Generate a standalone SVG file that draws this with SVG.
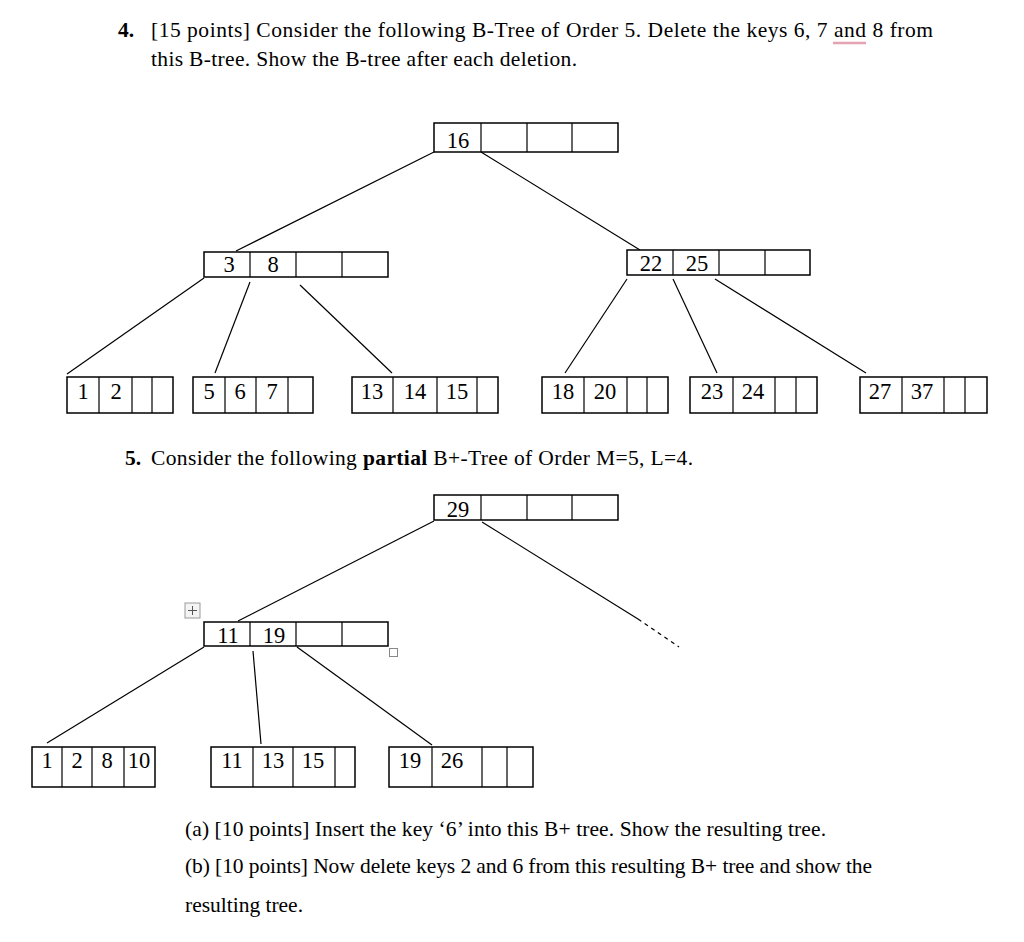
<svg xmlns="http://www.w3.org/2000/svg" width="1024" height="942" viewBox="0 0 1024 942">
<style>
.t{font-family:"Liberation Serif","Times New Roman",serif;font-size:21.5px;fill:#000}
.b{font-weight:bold}
.k{font-family:"Liberation Serif","Times New Roman",serif;font-size:22.5px;fill:#000;text-anchor:middle}
.c{fill:#fff;stroke:#000;stroke-width:1.5}
.e{stroke:#000;stroke-width:1.2;fill:none}
</style>
<rect width="1024" height="942" fill="#fff"/>
<g id="text">
<text class="t" x="118" y="37"><tspan class="b">4.</tspan></text>
<text class="t" x="151" y="37" textLength="782" lengthAdjust="spacing">[15 points] Consider the following B-Tree of Order 5. Delete the keys 6, 7 and 8 from</text>
<line x1="833" y1="43" x2="866" y2="43" stroke="#e3a3b3" stroke-width="2.5"/>
<text class="t" x="151" y="66" textLength="426" lengthAdjust="spacing">this B-tree. Show the B-tree after each deletion.</text>
<text class="t" x="125" y="465"><tspan class="b">5.</tspan></text>
<text class="t" x="151" y="465" textLength="542" lengthAdjust="spacing">Consider the following <tspan class="b">partial</tspan> B+-Tree of Order M=5, L=4.</text>
<text class="t" x="185" y="836" textLength="641" lengthAdjust="spacing">(a) [10 points] Insert the key ‘6’ into this B+ tree. Show the resulting tree.</text>
<text class="t" x="185" y="873" textLength="687" lengthAdjust="spacing">(b) [10 points] Now delete keys 2 and 6 from this resulting B+ tree and show the</text>
<text class="t" x="185" y="912" textLength="118" lengthAdjust="spacing">resulting tree.</text>
</g>
<g id="connectors">
<line class="e" x1="434" y1="152" x2="236" y2="251"/>
<line class="e" x1="481" y1="152" x2="640" y2="250"/>
<line class="e" x1="204" y1="278" x2="67" y2="374"/>
<line class="e" x1="250" y1="282" x2="215" y2="373"/>
<line class="e" x1="300" y1="285" x2="392" y2="373"/>
<line class="e" x1="627" y1="279" x2="565" y2="373"/>
<line class="e" x1="673" y1="279" x2="717" y2="373"/>
<line class="e" x1="715" y1="279" x2="866" y2="373"/>
<line class="e" x1="434" y1="521" x2="238" y2="621"/>
<line class="e" x1="482" y1="522" x2="638" y2="619"/>
<line class="e" x1="638" y1="619" x2="679" y2="647" stroke-dasharray="4,4"/>
<line class="e" x1="204" y1="647" x2="47" y2="743"/>
<line class="e" x1="253" y1="651" x2="261" y2="744"/>
<line class="e" x1="297" y1="647" x2="432" y2="745"/>
</g>
<g id="n16">
<rect class="c" x="434" y="123" width="184" height="29"/>
<path class="e" d="M481 123V152M527 123V152M572 123V152"/>
<text class="k" x="458" y="148">16</text>
</g>
<g id="n3_8">
<rect class="c" x="204" y="252" width="184" height="25"/>
<path class="e" d="M250 252V277M296 252V277M342 252V277"/>
<text class="k" x="229" y="272">3</text>
<text class="k" x="273" y="272">8</text>
</g>
<g id="n22_25">
<rect class="c" x="627" y="250" width="183" height="25"/>
<path class="e" d="M673 250V275M719 250V275M765 250V275"/>
<text class="k" x="651" y="271">22</text>
<text class="k" x="697" y="271">25</text>
</g>
<g id="l1_2">
<rect class="c" x="67" y="377" width="106" height="36"/>
<path class="e" d="M99 377V413M132 377V413M152 377V413"/>
<text class="k" x="83" y="399">1</text>
<text class="k" x="116" y="399">2</text>
</g>
<g id="l5_6_7">
<rect class="c" x="193" y="377" width="120" height="36"/>
<path class="e" d="M225 377V413M256 377V413M288 377V413"/>
<text class="k" x="209" y="399">5</text>
<text class="k" x="240" y="399">6</text>
<text class="k" x="272" y="399">7</text>
</g>
<g id="l13_14_15">
<rect class="c" x="352" y="377" width="146" height="36"/>
<path class="e" d="M393 377V413M437 377V413M477 377V413"/>
<text class="k" x="372" y="399">13</text>
<text class="k" x="415" y="399">14</text>
<text class="k" x="457" y="399">15</text>
</g>
<g id="l18_20">
<rect class="c" x="542" y="377" width="126" height="36"/>
<path class="e" d="M584 377V413M627 377V413M647 377V413"/>
<text class="k" x="563" y="399">18</text>
<text class="k" x="605" y="399">20</text>
</g>
<g id="l23_24">
<rect class="c" x="690" y="377" width="127" height="36"/>
<path class="e" d="M733 377V413M775 377V413M796 377V413"/>
<text class="k" x="712" y="399">23</text>
<text class="k" x="753" y="399">24</text>
</g>
<g id="l27_37">
<rect class="c" x="860" y="377" width="127" height="36"/>
<path class="e" d="M902 377V413M944 377V413M965 377V413"/>
<text class="k" x="880" y="399">27</text>
<text class="k" x="922" y="399">37</text>
</g>
<g id="n29">
<rect class="c" x="434" y="495" width="184" height="25"/>
<path class="e" d="M481 495V520M527 495V520M572 495V520"/>
<text class="k" x="458" y="517">29</text>
</g>
<g id="n11_19">
<rect class="c" x="204" y="622" width="184" height="24"/>
<path class="e" d="M250 622V646M296 622V646M342 622V646"/>
<text class="k" x="228" y="643">11</text>
<text class="k" x="274" y="643">19</text>
</g>
<g id="handles">
<rect x="185" y="603" width="15" height="15" fill="#f4f4f4" stroke="#999" stroke-width="1"/>
<path d="M192.5 606V615M188 610.5H197" stroke="#555" stroke-width="1"/>
<rect x="389.5" y="648.5" width="8" height="8" fill="#fff" stroke="#888" stroke-width="1"/>
</g>
<g id="lf1_2_8_10">
<rect class="c" x="32" y="747" width="123" height="40"/>
<path class="e" d="M62 747V787M92 747V787M124 747V787"/>
<text class="k" x="47" y="768">1</text>
<text class="k" x="77" y="768">2</text>
<text class="k" x="107" y="768">8</text>
<text class="k" x="139" y="768">10</text>
</g>
<g id="lf11_13_15">
<rect class="c" x="211" y="747" width="144" height="40"/>
<path class="e" d="M253 747V787M293 747V787M335 747V787"/>
<text class="k" x="232" y="768">11</text>
<text class="k" x="273" y="768">13</text>
<text class="k" x="313" y="768">15</text>
</g>
<g id="lf19_26">
<rect class="c" x="389" y="747" width="144" height="40"/>
<path class="e" d="M432 747V787M482 747V787M507 747V787"/>
<text class="k" x="410" y="768">19</text>
<text class="k" x="452" y="768">26</text>
</g>
</svg>
